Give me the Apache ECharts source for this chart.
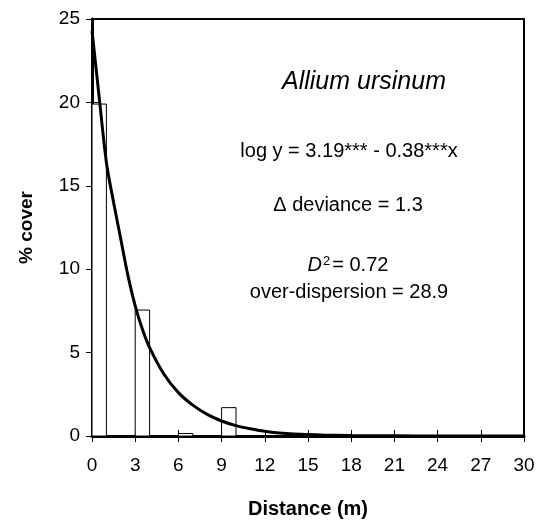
<!DOCTYPE html>
<html>
<head>
<meta charset="utf-8">
<script src="https://cdn.jsdelivr.net/npm/echarts@6/dist/echarts.min.js"></script>
<style>html,body{margin:0;padding:0;background:#fff;}#c{width:540px;height:524px;}</style>
</head>
<body>
<div id="c"></div>
<script>
// Quadrat bins (m) and observed % cover
var binStart = [0, 3, 6, 9, 12, 15, 18, 21, 24, 27];
var binEnd   = [1, 4, 7, 10, 13, 16, 19, 22, 25, 28];
var cover    = [19.9, 7.55, 0.15, 1.7, 0, 0, 0, 0, 0, 0];
// Fitted curve
var curveX = [0, 0.5, 1, 1.5, 2, 2.5, 3, 3.5, 4, 5, 6, 7, 8, 9, 10, 11, 12, 13, 14, 16, 18, 21, 24, 30];
var curveY = [24.3, 20.3, 16.4, 14.0, 11.8, 9.6, 7.8, 6.4, 5.3, 3.7, 2.6, 1.85, 1.3, 0.9, 0.62, 0.43, 0.28, 0.18, 0.12, 0.06, 0.03, 0.01, 0, 0];
var xTicks = [0, 3, 6, 9, 12, 15, 18, 21, 24, 27, 30];
var yTicks = [0, 5, 10, 15, 20, 25];

var barData = binStart.map(function (s, i) { return [s, binEnd[i], cover[i]]; });
var lineData = curveX.map(function (x, i) { return [x, curveY[i]]; });

var font = 'Liberation Sans, Arial, sans-serif';
var chart = echarts.init(document.getElementById('c'));
var axisBase = {
  type: 'value', splitLine: {show: false}
};
chart.setOption({
  animation: false,
  grid: {left: 92, right: 16, top: 19, bottom: 87, show: true, borderColor: '#000', borderWidth: 2},
  xAxis: [
    Object.assign({}, axisBase, {
      min: xTicks[0], max: xTicks[xTicks.length - 1], interval: 3,
      name: 'Distance (m)', nameLocation: 'middle', nameGap: 63,
      nameTextStyle: {fontFamily: font, fontWeight: 'bold', fontSize: 20, color: '#000'},
      axisLine: {lineStyle: {color: '#000', width: 3}},
      axisTick: {length: 6, lineStyle: {color: '#000', width: 1}},
      axisLabel: {fontFamily: font, fontSize: 19, color: '#000', margin: 20}
    }),
    Object.assign({}, axisBase, {
      min: xTicks[0], max: xTicks[xTicks.length - 1], interval: 3, position: 'bottom',
      axisLine: {show: false}, axisLabel: {show: false},
      axisTick: {inside: true, length: 6, lineStyle: {color: '#000', width: 1}}
    })
  ],
  yAxis: [
    Object.assign({}, axisBase, {
      min: yTicks[0], max: yTicks[yTicks.length - 1], interval: 5,
      name: '% cover', nameLocation: 'middle', nameGap: 56,
      nameTextStyle: {fontFamily: font, fontWeight: 'bold', fontSize: 19, color: '#000'},
      axisLine: {lineStyle: {color: '#000', width: 3}},
      axisTick: {length: 6, lineStyle: {color: '#000', width: 1}},
      axisLabel: {fontFamily: font, fontSize: 19, color: '#000', margin: 12}
    }),
    Object.assign({}, axisBase, {
      min: yTicks[0], max: yTicks[yTicks.length - 1], interval: 5, position: 'left',
      axisLine: {show: false}, axisLabel: {show: false},
      axisTick: {inside: true, length: 6, lineStyle: {color: '#000', width: 1}}
    })
  ],
  series: [
    {
      type: 'custom', xAxisIndex: 0, yAxisIndex: 0, data: barData,
      renderItem: function (params, api) {
        var p0 = api.coord([api.value(0), 0]);
        var p1 = api.coord([api.value(1), api.value(2)]);
        return {
          type: 'rect',
          shape: {x: p0[0], y: p1[1], width: p1[0] - p0[0], height: p0[1] - p1[1]},
          style: {fill: '#fff', stroke: '#000', lineWidth: 1}
        };
      },
      z: 1
    },
    {
      type: 'line', xAxisIndex: 0, yAxisIndex: 0, data: lineData, smooth: 0.3,
      showSymbol: false, lineStyle: {color: '#000', width: 3}, z: 3
    }
  ],
  graphic: [
    {type: 'text', x: 364, y: 82, style: {text: 'Allium ursinum', fontFamily: font, fontStyle: 'italic', fontSize: 25, fill: '#000', textAlign: 'center', textVerticalAlign: 'middle'}},
    {type: 'text', x: 349, y: 151, style: {text: 'log y = 3.19*** - 0.38***x', fontFamily: font, fontSize: 20, fill: '#000', textAlign: 'center', textVerticalAlign: 'middle'}},
    {type: 'text', x: 348, y: 205, style: {text: '\u0394 deviance = 1.3', fontFamily: font, fontSize: 20, fill: '#000', textAlign: 'center', textVerticalAlign: 'middle'}},
    {type: 'text', x: 348, y: 265, style: {
      text: '{i|D}{s|2}{n|= 0.72}', textAlign: 'center', textVerticalAlign: 'middle',
      rich: {
        i: {fontFamily: font, fontStyle: 'italic', fontSize: 20, fill: '#000'},
        s: {fontFamily: font, fontSize: 13, fill: '#000', verticalAlign: 'top', padding: [0, 2, 8, 1]},
        n: {fontFamily: font, fontSize: 20, fill: '#000'}
      }}},
    {type: 'text', x: 349, y: 292, style: {text: 'over-dispersion = 28.9', fontFamily: font, fontSize: 20, fill: '#000', textAlign: 'center', textVerticalAlign: 'middle'}}
  ]
});
</script>
</body>
</html>
